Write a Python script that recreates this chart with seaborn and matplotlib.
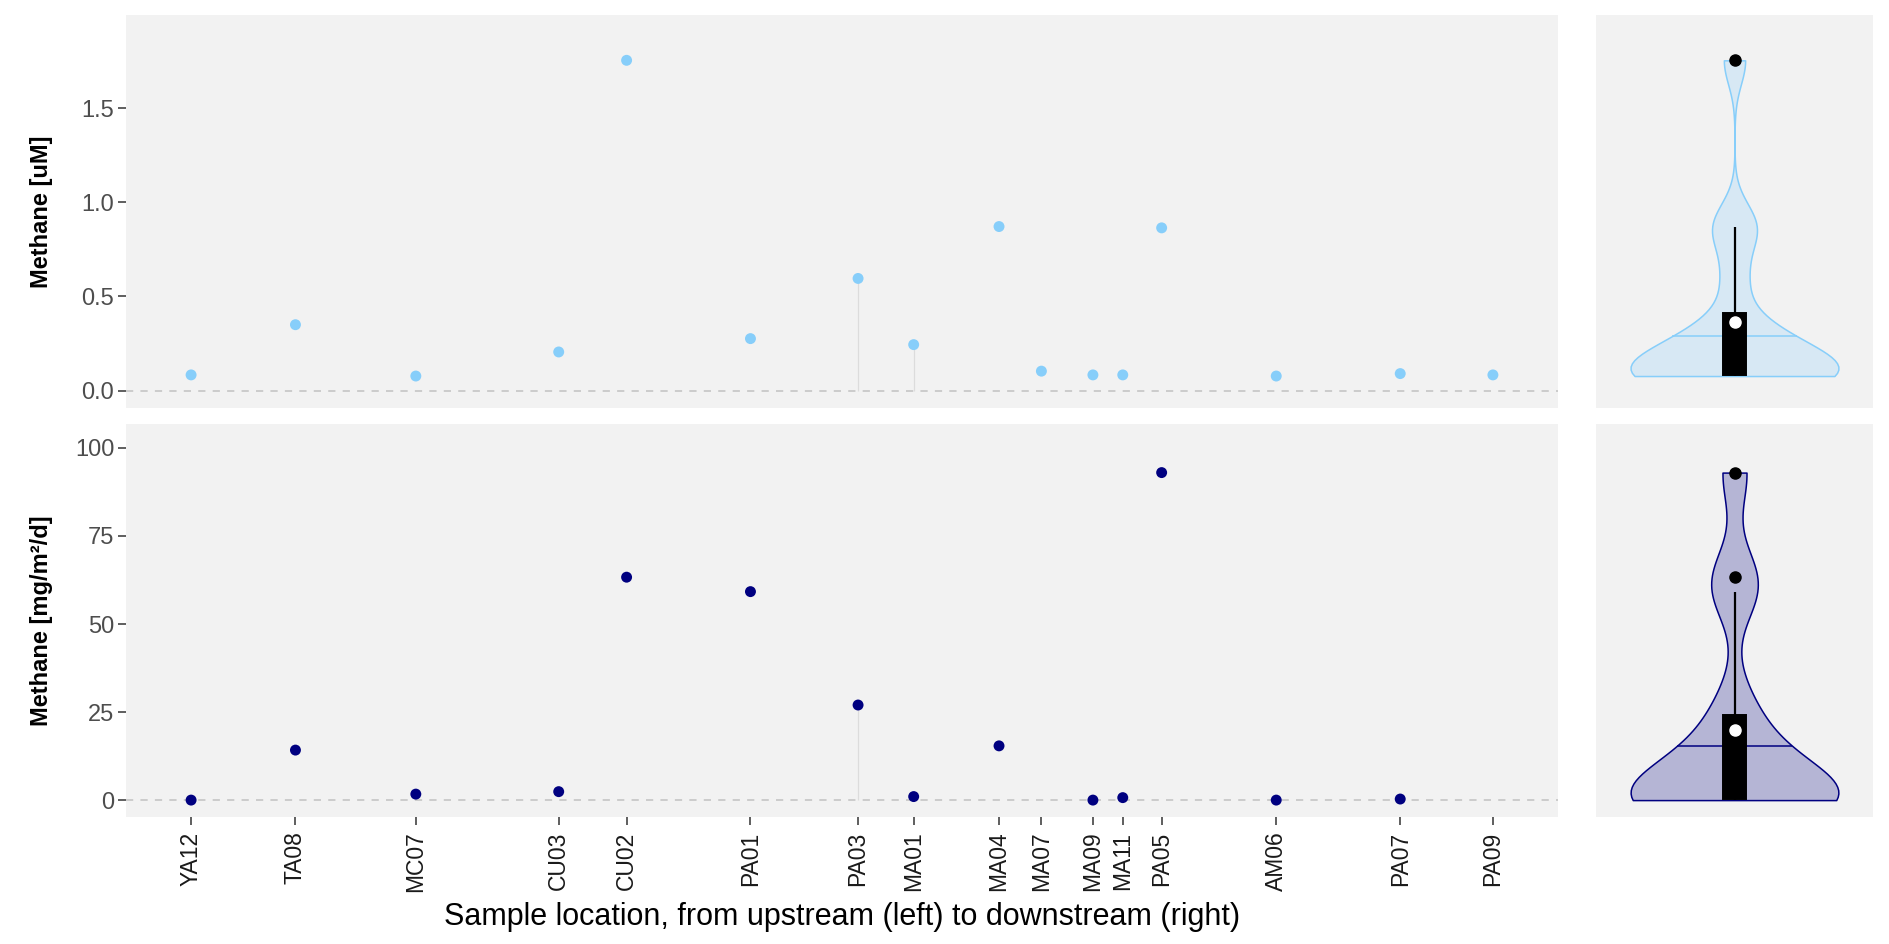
import numpy as np
import pandas as pd
import matplotlib
matplotlib.use("Agg")
import matplotlib.pyplot as plt
import seaborn as sns

# ---------------- data ----------------
stations = ["YA12", "TA08", "MC07", "CU03", "CU02", "PA01", "PA03", "MA01",
            "MA04", "MA07", "MA09", "MA11", "PA05", "AM06", "PA07", "PA09"]
distance = [0.0, 86.7, 186.7, 305.4, 361.8, 464.7, 554.1, 600.3,
            671.2, 706.4, 749.2, 774.0, 806.3, 901.5, 1004.5, 1081.5]
methane_uM = [0.083, 0.350, 0.077, 0.205, 1.756, 0.276, 0.596, 0.244,
              0.872, 0.103, 0.083, 0.083, 0.865, 0.077, 0.090, 0.083]
methane_flux = [0.0, 14.2, 1.7, 2.4, 63.3, 59.2, 27.0, 1.0,
                15.4, np.nan, 0.0, 0.7, 93.0, 0.0, 0.3, np.nan]
highlight = ["PA03", "MA01"]

ylabel_top = "Methane [uM]"
ylabel_bot = "Methane [mg/m²/d]"
xlabel = "Sample location, from upstream (left) to downstream (right)"
col_top = "#87CEFA"
col_bot = "#000080"

df = pd.DataFrame({"station": stations, "distance": distance,
                   "uM": methane_uM, "flux": methane_flux})

# ---------------- style ----------------
sns.set_theme(style="white")
plt.rcParams["font.family"] = ["Liberation Sans", "DejaVu Sans"]
PANEL = "#F2F2F2"

fig = plt.figure(figsize=(18.89, 9.44), dpi=100)
W, H = 1889.0, 944.0
def axes_px(x0, y0, x1, y1):
    return fig.add_axes([x0 / W, 1 - y1 / H, (x1 - x0) / W, (y1 - y0) / H])

ax_t = axes_px(126, 15, 1558, 408)
ax_b = axes_px(126, 424, 1558, 817)
ax_tv = axes_px(1596, 15, 1873, 408)
ax_bv = axes_px(1596, 424, 1873, 817)

rng = max(distance) - min(distance)
xlim = (min(distance) - 0.05 * rng, max(distance) + 0.05 * rng)
ylims = {"uM": (-0.093, 1.997), "flux": (-4.8, 106.8)}


def nrd0_factor(v):
    v = np.asarray(v)
    sd = np.std(v, ddof=1)
    iqr = np.subtract(*np.percentile(v, [75, 25]))
    bw = 0.9 * min(sd, iqr / 1.34) * len(v) ** (-0.2)
    return bw, bw / sd


def scatter_panel(ax, col, color, ylabel, show_x):
    d = df.dropna(subset=[col])
    ax.set_facecolor(PANEL)
    ax.axhline(0, color="#C8C8C8", lw=1.3, ls=(0, (4, 4)), zorder=1)
    hl = d[d["station"].isin(highlight)]
    ax.vlines(hl["distance"], 0, hl[col], color="#DCDCDC", lw=0.9, zorder=2)
    sns.scatterplot(data=d, x="distance", y=col, color=color, s=62,
                    edgecolor="none", linewidth=0, ax=ax, zorder=3)
    ax.set_xlim(*xlim)
    ax.set_ylim(*ylims[col])
    for s in ax.spines.values():
        s.set_visible(False)
    ax.set_ylabel(ylabel, fontsize=17, fontweight="bold", color="black")
    ax.tick_params(axis="y", left=True, length=5.5, width=1.1, color="#333333",
                   labelsize=17, labelcolor="#4D4D4D", pad=3)
    ax.set_xticks(distance)
    if show_x:
        ax.set_xticklabels(stations, rotation=90, fontsize=16.5, color="#1A1A1A")
        ax.tick_params(axis="x", bottom=True, length=5.5, width=1.1,
                       color="#333333", pad=5)
        ax.set_xlabel(xlabel, fontsize=22, color="black")
        ax.xaxis.label.set_va("center")
        ax.xaxis.set_label_coords(0.5, -0.255)
    else:
        ax.set_xticklabels([])
        ax.tick_params(axis="x", bottom=False, length=0)
        ax.set_xlabel("")


def violin_panel(ax, col, color):
    vals = df[col].dropna().to_numpy()
    ax.set_facecolor(PANEL)
    bw, factor = nrd0_factor(vals)
    sns.violinplot(y=vals, ax=ax, inner=None, cut=0, bw_method=factor,
                   width=0.9, density_norm="width", color=color, saturation=1,
                   linecolor=color, linewidth=1.1)
    rgb = matplotlib.colors.to_rgb(color)
    for pc in ax.collections:
        pc.set_facecolor((*rgb, 0.25))
        pc.set_edgecolor(color)
    # ggplot-style density median line
    grid = np.linspace(vals.min(), vals.max(), 1024)
    dens = np.exp(-0.5 * ((grid[:, None] - vals[None, :]) / bw) ** 2).sum(axis=1)
    cdf = np.cumsum(dens)
    cdf = (cdf - cdf[0]) / (cdf[-1] - cdf[0])
    q = np.interp(0.5, cdf, grid)
    half = 0.45 * np.interp(q, grid, dens) / dens.max()
    ax.hlines(q, -half, half, color=color, lw=1.1, zorder=3)
    sns.boxplot(y=vals, ax=ax, width=0.1, color="black", saturation=1,
                showcaps=False, showmeans=True, linewidth=1.4,
                boxprops=dict(facecolor="black", edgecolor="black", zorder=4),
                whiskerprops=dict(color="black", lw=1.6, zorder=4),
                medianprops=dict(color="black", zorder=4),
                meanprops=dict(marker="o", markerfacecolor="white",
                               markeredgecolor="white", markersize=8, zorder=6),
                flierprops=dict(marker="o", markerfacecolor="black",
                                markeredgecolor="black", markersize=8, zorder=6))
    ax.set_xlim(-0.6, 0.6)
    ax.set_ylim(*ylims[col])
    for s in ax.spines.values():
        s.set_visible(False)
    ax.set_xticks([])
    ax.set_yticks([])
    ax.set_xlabel("")
    ax.set_ylabel("")


scatter_panel(ax_t, "uM", col_top, ylabel_top, show_x=False)
scatter_panel(ax_b, "flux", col_bot, ylabel_bot, show_x=True)
ax_t.set_yticks([0.0, 0.5, 1.0, 1.5])
ax_t.set_yticklabels(["0.0", "0.5", "1.0", "1.5"])
ax_b.set_yticks([0, 25, 50, 75, 100])
violin_panel(ax_tv, "uM", col_top)
violin_panel(ax_bv, "flux", col_bot)

for a in (ax_t, ax_b):
    a.yaxis.label.set_va("center")
    a.yaxis.set_label_coords(-0.059, 0.5)

fig.savefig("out.png", dpi=100, facecolor="white")
